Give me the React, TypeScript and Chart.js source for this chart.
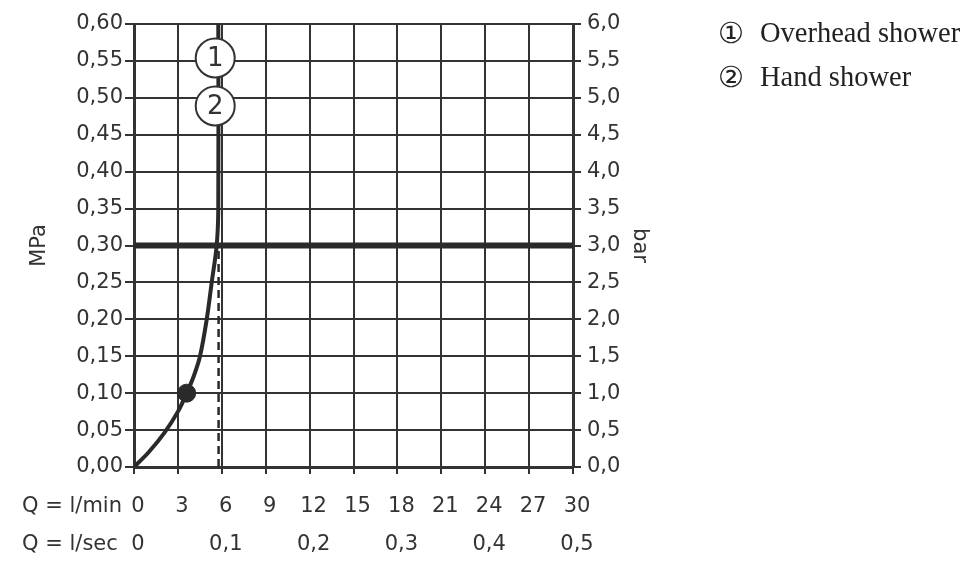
import React, { useEffect, useRef } from "react";
import { Chart, registerables } from "chart.js";

Chart.register(...registerables);

// ---- data ----
const lminTickLabels = ["0", "3", "6", "9", "12", "15", "18", "21", "24", "27", "30"];
const lsecTickLabels = ["0", "", "0,1", "", "0,2", "", "0,3", "", "0,4", "", "0,5"];

const curveFlow = [0, 1, 2.1, 3, 3.6, 4.1, 4.51, 4.97, 5.31, 5.65, 5.76, 5.76];
const curvePressure = [0, 0.02, 0.047, 0.075, 0.1, 0.124, 0.15, 0.2, 0.25, 0.3, 0.35, 0.6];

const dashedFlow = [5.78, 5.78];
const dashedPressure = [0, 0.3];

const recommendedFlow = [0, 30];
const recommendedPressure = [0.3, 0.3];

const markerFlow = [3.6];
const markerPressure = [0.1];

const badgeLabels = ["1", "2"];
const badgeFlow = [5.55, 5.55];
const badgePressure = [0.554, 0.489];

const legendSymbols = ["①", "②"];
const legendLabels = ["Overhead shower", "Hand shower"];

const axisLabelMin = "Q = l/min";
const axisLabelSec = "Q = l/sec";

const INK = "#333333";
const FONT = "'DejaVu Sans', sans-serif";
const FS = 21;

const zip = (xs: number[], ys: number[]) => xs.map((x, i) => ({ x, y: ys[i] }));

export default function App() {
  const ref = useRef<HTMLCanvasElement | null>(null);

  useEffect(() => {
    document.body.style.margin = "0";
    const canvas = ref.current;
    if (!canvas) return;

    const overlayPlugin = {
      id: "overlay",
      afterDatasetsDraw(chart: any) {
        const ctx = chart.ctx;
        const meta = chart.getDatasetMeta(0);
        ctx.save();
        ctx.fillStyle = INK;
        ctx.font = `26px ${FONT}`;
        ctx.textAlign = "center";
        ctx.textBaseline = "middle";
        meta.data.forEach((pt: any, i: number) => {
          ctx.fillText(badgeLabels[i], pt.x, pt.y + 1);
        });
        ctx.restore();
      },
      afterDraw(chart: any) {
        const ctx = chart.ctx;
        const xs = chart.scales.x;
        ctx.save();
        ctx.fillStyle = INK;
        ctx.font = `${FS}px ${FONT}`;
        ctx.textAlign = "left";
        ctx.textBaseline = "middle";
        const y1 = xs.top + 40;
        ctx.fillText(axisLabelMin, 22, y1);
        ctx.fillText(axisLabelSec, 22, y1 + 38);
        ctx.restore();
      },
    };

    const chart = new Chart(canvas, {
      type: "scatter",
      data: {
        datasets: [
          {
            data: zip(badgeFlow, badgePressure),
            pointRadius: 19.5,
            pointBackgroundColor: "#ffffff",
            pointBorderColor: INK,
            pointBorderWidth: 2,
            showLine: false,
          },
          {
            data: zip(markerFlow, markerPressure),
            pointRadius: 9,
            pointBackgroundColor: "#2a2a2a",
            pointBorderColor: "#2a2a2a",
            showLine: false,
          },
          {
            data: zip(curveFlow, curvePressure),
            showLine: true,
            borderColor: "#2a2a2a",
            borderWidth: 4,
            pointRadius: 0,
            tension: 0.35,
          },
          {
            data: zip(dashedFlow, dashedPressure),
            showLine: true,
            borderColor: "#2a2a2a",
            borderWidth: 2.5,
            borderDash: [8, 5],
            pointRadius: 0,
          },
          {
            data: zip(recommendedFlow, recommendedPressure),
            showLine: true,
            borderColor: "#2a2a2a",
            borderWidth: 6,
            pointRadius: 0,
          },
        ],
      },
      options: {
        responsive: false,
        animation: false,
        layout: { padding: { top: 24, right: 317, left: 0, bottom: 0 } },
        plugins: { legend: { display: false }, tooltip: { enabled: false } },
        scales: {
          x: {
            type: "linear",
            min: 0,
            max: 30,
            afterFit: (s: any) => {
              s.height = 94;
            },
            afterBuildTicks: (s: any) => {
              s.ticks = lminTickLabels.map((_, i) => ({ value: i * 3 }));
            },
            ticks: {
              color: INK,
              padding: 14,
              labelOffset: 4,
              maxRotation: 0,
              autoSkip: false,
              font: { family: FONT, size: FS, lineHeight: 38 / FS },
              callback: (_v: any, i: number) => [lminTickLabels[i], lsecTickLabels[i]],
            },
            grid: { color: INK, lineWidth: 2, tickLength: 7, tickColor: INK },
            border: { color: INK, width: 3 },
          },
          y: {
            type: "linear",
            position: "left",
            min: 0,
            max: 0.6,
            afterFit: (s: any) => {
              s.width = 134;
            },
            ticks: {
              stepSize: 0.05,
              color: INK,
              padding: 2,
              font: { family: FONT, size: FS },
              callback: (v: any) => Number(v).toFixed(2).replace(".", ","),
            },
            grid: { color: INK, lineWidth: 2, tickLength: 9, tickColor: INK },
            border: { color: INK, width: 3 },
            title: {
              display: true,
              text: "MPa",
              color: INK,
              font: { family: FONT, size: FS },
              padding: { top: 27, bottom: 0 },
            },
          },
          y2: {
            type: "linear",
            position: "right",
            min: 0,
            max: 6,
            afterFit: (s: any) => {
              s.width = 79;
            },
            ticks: {
              stepSize: 0.5,
              color: INK,
              padding: 6,
              font: { family: FONT, size: FS },
              callback: (v: any) => Number(v).toFixed(1).replace(".", ","),
            },
            grid: { drawOnChartArea: false, color: INK, lineWidth: 2, tickLength: 8, tickColor: INK },
            border: { color: INK, width: 3 },
            title: {
              display: true,
              text: "bar",
              color: INK,
              font: { family: FONT, size: FS },
              padding: { top: 0, bottom: 0 },
            },
          },
        },
      } as any,
      plugins: [overlayPlugin],
    });

    return () => chart.destroy();
  }, []);

  return (
    <div style={{ position: "relative", width: 969, height: 561, background: "#fff", overflow: "hidden" }}>
      <canvas ref={ref} width={969} height={561} style={{ width: 969, height: 561, display: "block" }} />
      {legendLabels.map((label, i) => (
        <div
          key={label}
          style={{
            position: "absolute",
            left: 718,
            top: 14 + i * 44,
            height: 38,
            display: "flex",
            alignItems: "center",
            color: "#222",
            whiteSpace: "nowrap",
          }}
        >
          <span
            style={{
              fontFamily: "'DejaVu Sans', sans-serif",
              fontSize: 29,
              width: 42,
              display: "inline-block",
              lineHeight: "38px",
            }}
          >
            {legendSymbols[i]}
          </span>
          <span style={{ fontFamily: "'Liberation Serif', serif", fontSize: 28.5, lineHeight: "38px" }}>{label}</span>
        </div>
      ))}
    </div>
  );
}
